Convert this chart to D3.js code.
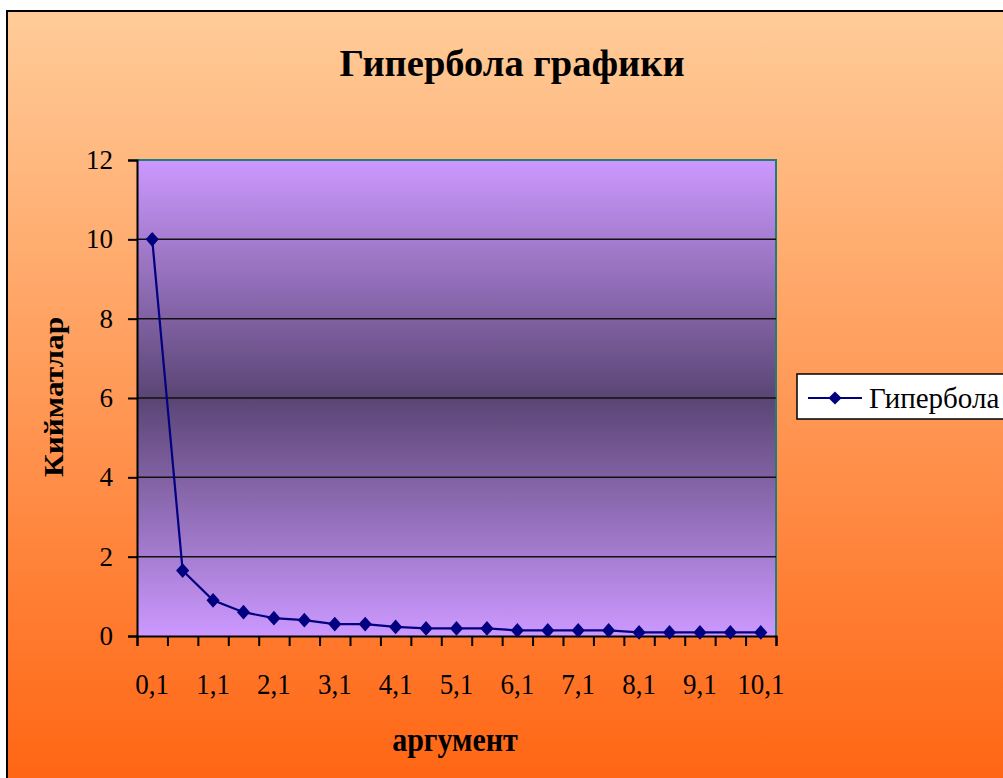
<!DOCTYPE html>
<html>
<head>
<meta charset="utf-8">
<script src="https://cdn.jsdelivr.net/npm/d3@7"></script>
<style>
  html, body { margin: 0; padding: 0; background: #fff; }
  svg { display: block; }
  svg text { font-family: "Liberation Serif", "Times New Roman", Times, "DejaVu Serif", serif; fill: #000; }
</style>
</head>
<body>
<script>
// Аргумент қийматлари (категориялар) ва y = 1/x қийматлари
const categories = ["0,1","0,6","1,1","1,6","2,1","2,6","3,1","3,6","4,1","4,6","5,1",
                    "5,6","6,1","6,6","7,1","7,6","8,1","8,6","9,1","9,6","10,1"];
const values = [10, 1.65, 0.9, 0.6, 0.45, 0.4, 0.3, 0.3, 0.23, 0.19, 0.19,
                0.19, 0.14, 0.14, 0.14, 0.14, 0.09, 0.09, 0.09, 0.09, 0.09];
const yTicks = [0, 2, 4, 6, 8, 10, 12];
const seriesName = "Гипербола";
const chartTitle = "Гипербола графики";
const xTitle = "аргумент";
const yTitle = "Кийматлар";

const W = 1003, H = 778;
const plot = { left: 137, right: 776, top: 160, bottom: 636 };
const serif = '"Liberation Serif", "Times New Roman", Times, "DejaVu Serif", serif';

const svg = d3.select("body").append("svg")
  .attr("width", W).attr("height", H)
  .style("font-family", serif);

const defs = svg.append("defs");
const bg = defs.append("linearGradient").attr("id", "bgGrad")
  .attr("gradientUnits", "userSpaceOnUse")
  .attr("x1", 0).attr("y1", 11).attr("x2", 0).attr("y2", 778);
bg.append("stop").attr("offset", 0).attr("stop-color", "#FFCC99");
bg.append("stop").attr("offset", 1).attr("stop-color", "#FF6614");

const pg = defs.append("linearGradient").attr("id", "plotGrad")
  .attr("x1", 0).attr("y1", 0).attr("x2", 0).attr("y2", 1);
pg.append("stop").attr("offset", 0).attr("stop-color", "#CC99FF");
pg.append("stop").attr("offset", 0.5).attr("stop-color", "#5A4574");
pg.append("stop").attr("offset", 1).attr("stop-color", "#CC99FF");

// chart frame
svg.append("rect")
  .attr("x", 7).attr("y", 11).attr("width", 1100).attr("height", 900)
  .attr("fill", "url(#bgGrad)").attr("stroke", "#000").attr("stroke-width", 2);

// scales
const x = d3.scaleBand().domain(categories).range([plot.left, plot.right]).padding(0);
const xIdx = d3.scaleLinear().domain([0, categories.length]).range([plot.left, plot.right]);
const y = d3.scaleLinear().domain([0, 12]).range([plot.bottom, plot.top]);

// plot area
svg.append("rect")
  .attr("x", plot.left).attr("y", plot.top)
  .attr("width", plot.right - plot.left).attr("height", plot.bottom - plot.top)
  .attr("fill", "url(#plotGrad)");

// plot border (top and right)
svg.append("path")
  .attr("d", `M${plot.left},${plot.top}H${plot.right}V${plot.bottom}`)
  .attr("fill", "none").attr("stroke", "#1E7F78").attr("stroke-width", 2);

// gridlines
svg.append("g")
  .selectAll("line")
  .data(yTicks.filter(d => d > 0 && d < 12))
  .join("line")
  .attr("x1", plot.left).attr("x2", plot.right)
  .attr("y1", d => y(d)).attr("y2", d => y(d))
  .attr("stroke", "#111").attr("stroke-width", 1.5);

// y axis
const yAxis = svg.append("g")
  .attr("transform", `translate(${plot.left},0)`)
  .call(d3.axisLeft(y).tickValues(yTicks).tickSize(9).tickPadding(15).tickFormat(d3.format("d")));
yAxis.attr("font-family", serif);
yAxis.select(".domain").attr("stroke", "#000").attr("stroke-width", 2);
yAxis.selectAll(".tick line").attr("stroke", "#000").attr("stroke-width", 2);
yAxis.selectAll(".tick text").attr("font-size", 27).style("font-family", serif);

// x axis tick marks at category boundaries
const xTickAxis = svg.append("g")
  .attr("transform", `translate(0,${plot.bottom})`)
  .call(d3.axisBottom(xIdx).tickValues(d3.range(categories.length + 1)).tickSize(10).tickFormat(""));
xTickAxis.select(".domain").attr("stroke", "#000").attr("stroke-width", 2);
xTickAxis.selectAll(".tick line").attr("stroke", "#000").attr("stroke-width", 2);

// x labels (every second category), slightly tall glyphs
const xLabelAxis = svg.append("g")
  .attr("transform", `translate(0,${plot.bottom})`)
  .call(d3.axisBottom(x).tickValues(categories.filter((d, i) => i % 2 === 0)).tickSize(0).tickPadding(0));
xLabelAxis.attr("font-family", serif);
xLabelAxis.select(".domain").remove();
xLabelAxis.selectAll(".tick text")
  .attr("font-size", 27).style("font-family", serif)
  .attr("y", 0).attr("dy", null)
  .attr("transform", "translate(0,58) scale(1,1.13)");

// series line
const cx = d => x(d) + x.bandwidth() / 2;
const pts = categories.map((c, i) => [cx(c), y(values[i])]);
svg.append("path")
  .attr("d", d3.line()(pts))
  .attr("fill", "none").attr("stroke", "#000080").attr("stroke-width", 2.2);

// diamond markers
const diamond = d3.symbol().type(d3.symbolDiamond2).size(110);
svg.append("g")
  .selectAll("path")
  .data(pts)
  .join("path")
  .attr("d", diamond)
  .attr("transform", d => `translate(${d[0]},${d[1]}) scale(1,1.12)`)
  .attr("fill", "#000080");

// titles
svg.append("text")
  .attr("x", 512).attr("y", 76).attr("text-anchor", "middle")
  .attr("font-size", 38.5).attr("font-weight", "bold")
  .style("font-family", serif)
  .text(chartTitle);

svg.append("text")
  .attr("transform", "translate(455,751) scale(1,1.1)")
  .attr("text-anchor", "middle")
  .attr("font-size", 30).attr("font-weight", "bold")
  .style("font-family", serif)
  .text(xTitle);

svg.append("text")
  .attr("transform", "translate(63,397) scale(1,1.12) rotate(-90)")
  .attr("text-anchor", "middle")
  .attr("font-size", 28).attr("font-weight", "bold")
  .style("font-family", serif)
  .text(yTitle);

// legend
const lg = svg.append("g");
lg.append("rect")
  .attr("x", 797).attr("y", 374).attr("width", 260).attr("height", 45)
  .attr("fill", "#fff").attr("stroke", "#000").attr("stroke-width", 1.5);
lg.append("line")
  .attr("x1", 808).attr("x2", 862).attr("y1", 398).attr("y2", 398)
  .attr("stroke", "#000080").attr("stroke-width", 2);
lg.append("path")
  .attr("d", diamond)
  .attr("transform", "translate(835,398)")
  .attr("fill", "#000080");
lg.append("text")
  .attr("x", 869).attr("y", 408)
  .attr("font-size", 29)
  .style("font-family", serif)
  .text(seriesName);
</script>
</body>
</html>
